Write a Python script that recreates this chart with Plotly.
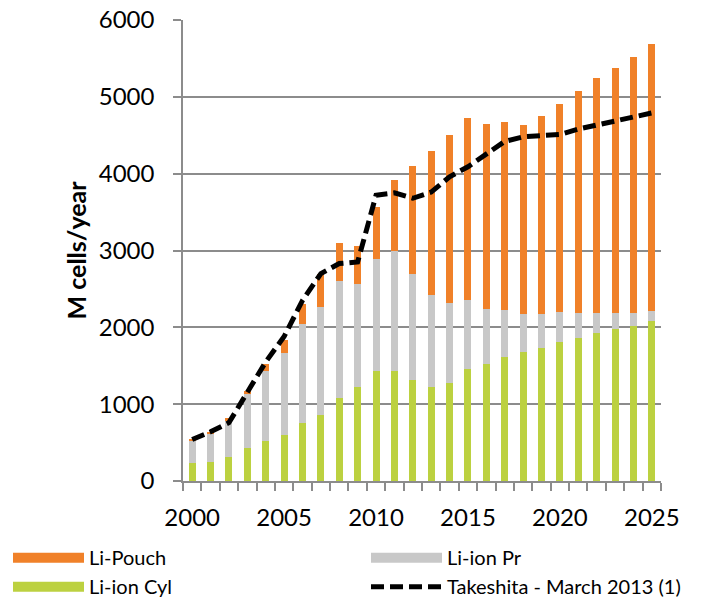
import plotly.graph_objects as go

years = list(range(2000, 2026))
li_ion_cyl = [230, 250, 310, 430, 520, 600, 750, 860, 1080, 1220, 1430, 1430, 1310,
              1220, 1280, 1460, 1520, 1620, 1680, 1730, 1810, 1860, 1920, 1980, 2020, 2080]
li_ion_pr = [300, 370, 470, 700, 910, 1070, 1290, 1410, 1520, 1350, 1460, 1560, 1380,
             1200, 1040, 890, 720, 600, 490, 440, 390, 330, 270, 210, 170, 130]
li_pouch = [10, 20, 40, 40, 90, 170, 260, 420, 500, 490, 680, 930, 1410,
            1870, 2180, 2370, 2410, 2450, 2460, 2580, 2710, 2880, 3050, 3190, 3330, 3480]
takeshita = [540, 640, 760, 1160, 1550, 1880, 2350, 2700, 2830, 2850, 3720, 3750, 3680,
             3760, 3960, 4090, 4250, 4420, 4480, 4500, 4510, 4580, 4630, 4690, 4730, 4790]

ORANGE = '#F08129'
GRAY = '#C8C8C8'
GREEN = '#BCD140'
AXIS = '#8C8C8C'
FONT = 'Lato'
DASH = '13px,6px'
W, H = 696, 590   # page body keeps its 8px margin
ML, MR, MT, MB = 175, 43, 12, 117

fig = go.Figure()
# bars (legend drawn by dummy traces below, for the wide swatches)
for vals, col in [(li_ion_cyl, GREEN), (li_ion_pr, GRAY), (li_pouch, ORANGE)]:
  fig.add_trace(go.Bar(x=years, y=vals, width=0.38, marker=dict(color=col, line=dict(width=0)),
                       showlegend=False))
fig.add_trace(go.Scatter(x=years, y=takeshita, mode='lines', showlegend=False,
                         line=dict(color='black', width=5, dash=DASH)))

# legend entries: left column in legend, right column in legend2
def add_key(name, lg, **line):
  fig.add_trace(go.Scatter(x=[None], y=[None], mode='lines', name=name, legend=lg,
                           legendgroup=name, line=line))
add_key('Li-Pouch', 'legend', color=ORANGE, width=14)
add_key('Li-ion Cyl', 'legend', color=GREEN, width=14)
add_key('Li-ion Pr', 'legend2', color=GRAY, width=14)
add_key('Takeshita - March 2013 (1)', 'legend2', color='black', width=5, dash=DASH)

leg = dict(xref='container', yref='container', y=0.1014, xanchor='left', yanchor='top',
           itemwidth=71, font=dict(size=20), tracegroupgap=4, traceorder='normal',
           bgcolor='rgba(0,0,0,0)')

# y title as a rotated annotation (fixed spot left of the tick labels)
fig.add_annotation(text='M cells/year', textangle=-90, xref='paper', yref='paper',
                   x=-108 / (W - ML - MR), y=0.5, xanchor='center', yanchor='middle',
                   showarrow=False, font=dict(size=25, weight='bold'))

fig.update_layout(
  width=W, height=H, plot_bgcolor='white', paper_bgcolor='white',
  margin=dict(l=ML, r=MR, t=MT, b=MB, autoexpand=False),
  barmode='stack', bargap=0,
  font=dict(family=FONT, size=24, color='black'),
  xaxis=dict(range=[1999.5, 2025.5], tickmode='array', tickvals=years[::5], ticks='',
             showline=True, linecolor=AXIS, linewidth=1.5, showgrid=False, zeroline=False,
             ticklabelstandoff=14, ticklabeloverflow='allow',
             minor=dict(tickmode='array', tickvals=[y - 0.5 for y in years] + [years[-1] + 0.5],
                        ticks='outside', ticklen=8, tickcolor=AXIS, tickwidth=1.5)),
  yaxis=dict(range=[0, 6000], dtick=1000, ticks='outside', ticklen=8, tickcolor=AXIS, tickwidth=1.5,
             showline=True, linecolor=AXIS, linewidth=1.5, showgrid=True, gridcolor=AXIS,
             gridwidth=1.5, zeroline=False, ticklabelstandoff=14, ticklabeloverflow='allow'),
  legend=dict(leg, x=0),
  legend2=dict(leg, x=358 / W),
)

fig.write_html("out.html", config={'displayModeBar': False})
